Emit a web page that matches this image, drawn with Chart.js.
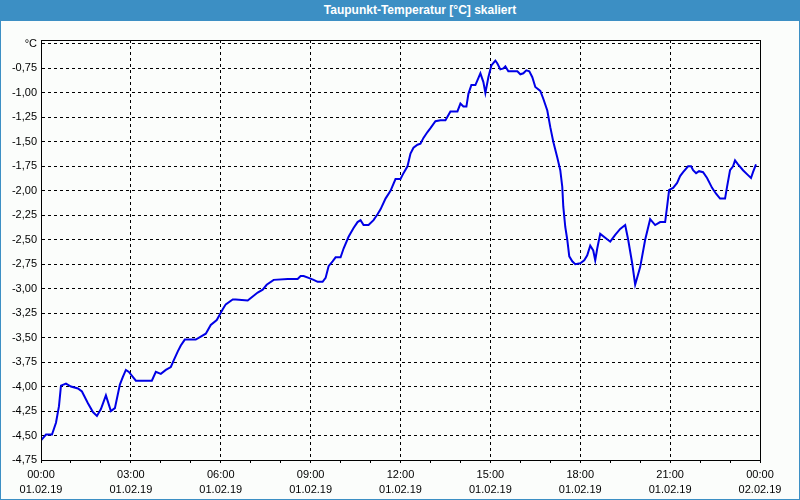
<!DOCTYPE html>
<html>
<head>
<meta charset="utf-8">
<script src="https://cdn.jsdelivr.net/npm/chart.js@4.4.1/dist/chart.umd.min.js"></script>
<style>
  body { margin: 0; background: #fbfdfb; width: 800px; height: 500px; overflow: hidden; }
  #title {
    position: absolute; left: 0; top: 0; width: 800px; height: 21px;
    background: #3c8fc4; color: #fff;
    font: bold 12px "Liberation Sans", Arial, sans-serif;
    line-height: 21px; text-align: center; box-sizing: border-box; padding-left: 40px;
  }
  #frame {
    position: absolute; left: 0; top: 0; width: 800px; height: 500px;
    box-sizing: border-box; border: 1px solid #3c8fc4; pointer-events: none;
  }
  #wrap { position: absolute; left: 0; top: 20px; width: 800px; height: 480px; }
</style>
</head>
<body>
<div id="title">Taupunkt-Temperatur [°C] skaliert</div>
<div id="wrap"><canvas id="dew-chart"></canvas></div>
<div id="frame"></div>
<script>

//
// Taupunkt chart
//

// minutes since 01.02.19 00:00
const minutes = [
  0, 10, 22, 30, 36, 40, 50, 60, 74, 82, 94, 104, 112, 120, 130, 140, 148, 158, 164, 170,
  176, 190, 222, 230, 240, 250, 260, 266, 274, 280, 288, 310, 320, 330, 340, 352, 364, 370, 384, 390,
  414, 424, 434, 444, 452, 466, 494, 514, 520, 526, 536, 546, 554, 564, 570, 576, 584, 590, 600, 606,
  616, 626, 634, 640, 646, 656, 666, 674, 680, 690, 700, 710, 720, 726, 734, 740, 746, 754, 760, 766,
  774, 780, 790, 800, 810, 820, 834, 840, 846, 852, 856, 862, 870, 880, 886, 890, 896, 902, 910, 914,
  920, 926, 930, 936, 954, 960, 966, 972, 978, 984, 990, 1000, 1006, 1014, 1020, 1026, 1034, 1040, 1044, 1046,
  1050, 1054, 1058, 1064, 1070, 1080, 1088, 1094, 1100, 1106, 1110, 1114, 1120, 1130, 1140, 1150, 1160, 1170, 1176, 1184,
  1190, 1200, 1210, 1220, 1230, 1240, 1250, 1254, 1258, 1266, 1274, 1280, 1286, 1296, 1302, 1306, 1312, 1318, 1326, 1334,
  1344, 1352, 1360, 1370, 1374, 1380, 1386, 1390, 1396, 1406, 1416, 1422, 1426, 1432
];

const dewPoint = [
  -4.55, -4.49, -4.49, -4.37, -4.20, -3.99, -3.97, -4.00, -4.02, -4.05, -4.17, -4.26, -4.30, -4.23, -4.09, -4.25, -4.22, -3.98, -3.90, -3.83,
  -3.85, -3.94, -3.94, -3.85, -3.87, -3.83, -3.80, -3.73, -3.64, -3.58, -3.52, -3.52, -3.49, -3.46, -3.37, -3.32, -3.21, -3.16, -3.11, -3.11,
  -3.12, -3.08, -3.04, -3.01, -2.96, -2.91, -2.90, -2.90, -2.87, -2.87, -2.89, -2.91, -2.93, -2.93, -2.89, -2.77, -2.72, -2.68, -2.68, -2.59,
  -2.47, -2.38, -2.32, -2.30, -2.35, -2.35, -2.30, -2.24, -2.19, -2.08, -2.00, -1.88, -1.88, -1.82, -1.75, -1.62, -1.56, -1.53, -1.52, -1.46,
  -1.40, -1.36, -1.29, -1.28, -1.28, -1.19, -1.19, -1.11, -1.14, -1.14, -1.01, -0.92, -0.92, -0.80, -0.89, -1.00, -0.84, -0.72, -0.67, -0.70,
  -0.76, -0.75, -0.73, -0.78, -0.78, -0.81, -0.80, -0.77, -0.78, -0.84, -0.94, -0.98, -1.06, -1.18, -1.35, -1.50, -1.66, -1.79, -1.96, -2.16,
  -2.37, -2.50, -2.67, -2.72, -2.75, -2.74, -2.71, -2.66, -2.56, -2.61, -2.71, -2.59, -2.44, -2.48, -2.52, -2.45, -2.39, -2.35, -2.50, -2.74,
  -2.96, -2.78, -2.50, -2.29, -2.35, -2.32, -2.32, -2.16, -1.99, -1.97, -1.92, -1.85, -1.81, -1.75, -1.75, -1.79, -1.82, -1.80, -1.81, -1.87,
  -1.97, -2.03, -2.08, -2.08, -1.96, -1.79, -1.75, -1.69, -1.73, -1.79, -1.84, -1.87, -1.81, -1.73
];

const yTicks = [-4.75, -4.5, -4.25, -4, -3.75, -3.5, -3.25, -3, -2.75, -2.5, -2.25, -2, -1.75, -1.5, -1.25, -1, -0.75, -0.5];
const dayLabels = { 0: '01.02.19', 1440: '02.02.19' };

const points = minutes.map((m, i) => ({ x: m, y: dewPoint[i] }));

const fontSpec = { family: '"Liberation Sans", Arial, sans-serif', size: 11 };

// solid frame round the plot
const frameBox = {
  id: 'frameBox',
  afterDraw(chart) {
    const a = chart.chartArea;
    const ctx = chart.ctx;
    ctx.save();
    ctx.strokeStyle = '#000';
    ctx.lineWidth = 1;
    ctx.setLineDash([]);
    ctx.strokeRect(a.left + 0.5, a.top + 0.5, a.right - a.left, a.bottom - a.top);
    ctx.restore();
  }
};

const config = {
  type: 'line',
  data: {
    datasets: [{
      label: 'Taupunkt',
      data: points,
      borderColor: '#0000e6',
      borderWidth: 2,
      pointRadius: 0,
      tension: 0,
      fill: false
    }]
  },
  options: {
    responsive: true,
    maintainAspectRatio: false,
    animation: false,
    layout: { padding: { left: 0, right: 40, top: 20, bottom: 0 } },
    plugins: {
      legend: { display: false },
      tooltip: { enabled: false }
    },
    scales: {
      x: {
        type: 'linear',
        min: 0,
        max: 1440,
        afterFit: s => { s.height = 40; },
        ticks: {
          stepSize: 60,
          autoSkip: false,
          maxRotation: 0,
          padding: 4,
          color: '#000',
          font: { ...fontSpec, lineHeight: 1.4 },
          callback: v => {
            if (v % 180 !== 0) return '';
            const h = String(Math.floor(v / 60) % 24).padStart(2, '0');
            return [h + ':00', dayLabels[v] || '01.02.19'];
          }
        },
        grid: {
          color: c => (c.tick && c.tick.value % 180 === 0 ? '#000' : 'rgba(0,0,0,0)'),
          tickColor: '#000',
          tickLength: 3,
          lineWidth: 1
        },
        border: { display: true, color: '#000', dash: [3, 3] }
      },
      y: {
        min: -4.75,
        max: -0.46,
        afterFit: s => { s.width = 41; },
        afterBuildTicks: s => { s.ticks = yTicks.map(v => ({ value: v })); },
        ticks: {
          padding: 4,
          color: '#000',
          font: fontSpec,
          callback: v => (v === -0.5 ? '°C' : v.toFixed(2).replace('.', ','))
        },
        grid: { color: '#000', drawTicks: false, lineWidth: 1 },
        border: { display: true, color: '#000', dash: [3, 3] }
      }
    }
  },
  plugins: [frameBox]
};

const dewChart = new Chart(document.getElementById('dew-chart'), config);

</script>
</body>
</html>
